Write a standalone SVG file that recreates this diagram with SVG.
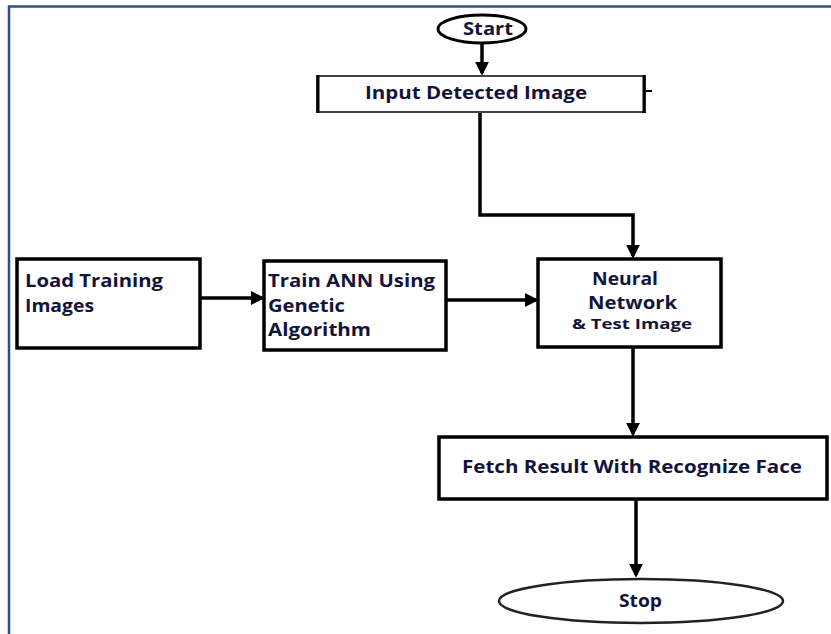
<svg xmlns="http://www.w3.org/2000/svg" width="831" height="634" viewBox="0 0 831 634">
<style>
.t{font-family:"Open Sans","Liberation Sans",sans-serif;font-weight:bold;font-size:18px;fill:#14143a}
.box{fill:#fff;stroke:#000;stroke-width:3.5}
.c{fill:none;stroke:#000;stroke-width:3.5}
</style>
<defs>
<marker id="ah" markerWidth="4" markerHeight="4" refX="3.2" refY="2" orient="auto" markerUnits="strokeWidth">
<path d="M0,0 L4,2 L0,4 Z" fill="#000"/>
</marker>
</defs>
<rect width="831" height="634" fill="#fff"/>
<path d="M9,634 V6.5 H831" fill="none" stroke="#2b4f87" stroke-width="2.5"/>
<g id="connectors">
<path class="c" d="M482,44 V73" marker-end="url(#ah)"/>
<path class="c" d="M480,112 V215 H633 V256" marker-end="url(#ah)"/>
<path class="c" d="M196,298 H262" marker-end="url(#ah)"/>
<path class="c" d="M446,300 H536" marker-end="url(#ah)"/>
<path class="c" d="M633,347 V434" marker-end="url(#ah)"/>
<path class="c" d="M636,499 V575" marker-end="url(#ah)"/>
</g>
<g id="start">
<ellipse cx="482" cy="29" rx="44" ry="14" fill="#fff" stroke="#000" stroke-width="3"/>
<text class="t" x="488" y="35" text-anchor="middle" textLength="50" lengthAdjust="spacingAndGlyphs">Start</text>
</g>
<g id="input">
<rect x="317" y="76" width="328" height="36" fill="#fff" stroke="#444" stroke-width="2"/>
<path d="M318,75 V113 M644,75 V113" stroke="#000" stroke-width="3"/>
<path d="M645,91 H652" stroke="#000" stroke-width="2"/>
<text class="t" x="365" y="99" textLength="222" lengthAdjust="spacingAndGlyphs">Input Detected Image</text>
</g>
<g id="load">
<rect class="box" x="17" y="259" width="183" height="89"/>
<text class="t" x="25" y="287" textLength="138" lengthAdjust="spacingAndGlyphs">Load Training</text>
<text class="t" x="25" y="312" textLength="69" lengthAdjust="spacingAndGlyphs">Images</text>
</g>
<g id="train">
<rect class="box" x="264" y="261" width="182" height="89"/>
<text class="t" x="268" y="287" textLength="167" lengthAdjust="spacingAndGlyphs">Train ANN Using</text>
<text class="t" x="268" y="312" textLength="77" lengthAdjust="spacingAndGlyphs">Genetic</text>
<text class="t" x="268" y="336" textLength="103" lengthAdjust="spacingAndGlyphs">Algorithm</text>
</g>
<g id="neural">
<rect class="box" x="538" y="259" width="183" height="88"/>
<text class="t" x="592" y="285" textLength="66" lengthAdjust="spacingAndGlyphs">Neural</text>
<text class="t" x="588" y="309" textLength="89" lengthAdjust="spacingAndGlyphs">Network</text>
<text class="t" x="572" y="329" style="font-size:14px" textLength="120" lengthAdjust="spacingAndGlyphs">&amp; Test Image</text>
</g>
<g id="fetch">
<rect class="box" x="439" y="437" width="388" height="62"/>
<text class="t" x="462" y="473" textLength="340" lengthAdjust="spacingAndGlyphs">Fetch Result With Recognize Face</text>
</g>
<g id="stop">
<ellipse cx="641" cy="601" rx="142" ry="22" fill="#fff" stroke="#222" stroke-width="2.5"/>
<text class="t" x="619" y="607" textLength="43" lengthAdjust="spacingAndGlyphs">Stop</text>
</g>
</svg>
